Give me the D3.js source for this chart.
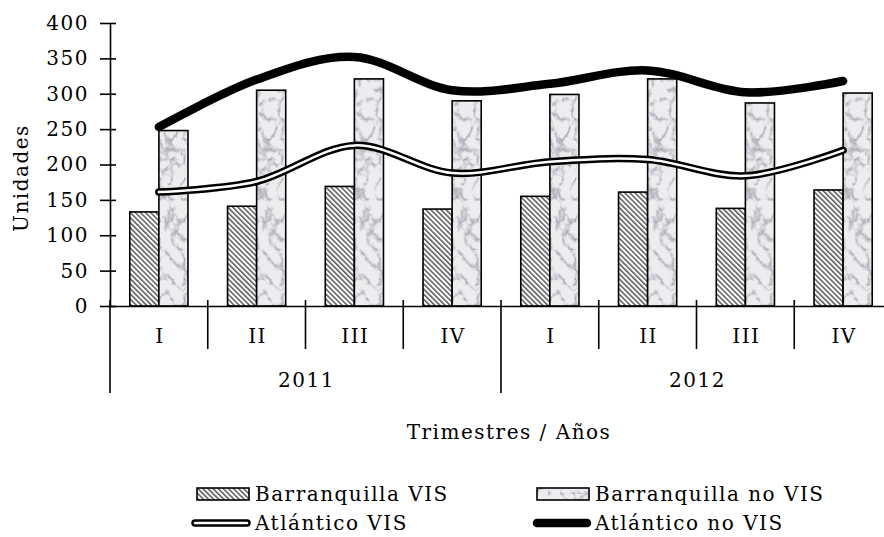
<!DOCTYPE html>
<html>
<head>
<meta charset="utf-8">
<script src="https://cdn.jsdelivr.net/npm/d3@7"></script>
<style>
  body { margin: 0; background: #fff; }
  svg { display: block; }
  text { font-family: "DejaVu Serif", serif; fill: #000; }
  .lbl { font-size: 20px; letter-spacing: 1.5px; }
</style>
</head>
<body>
<svg id="chart" width="884" height="537"></svg>
<script>
// values
const years = ['2011', '2012']
const quarters = ['I', 'II', 'III', 'IV']
const categories = ['2011-I', '2011-II', '2011-III', '2011-IV', '2012-I', '2012-II', '2012-III', '2012-IV']
const barranquillaVis = [133, 141, 169, 137, 155, 161, 138, 164]
const barranquillaNoVis = [248, 305, 321, 290, 299, 321, 287, 301]
const atlanticoVis = [161, 176, 227, 188, 204, 207, 184, 220]
const atlanticoNoVis = [253, 320, 352, 305, 314, 333, 302, 318]
const yTicks = [0, 50, 100, 150, 200, 250, 300, 350, 400]

const svg = d3.select('#chart')
const defs = svg.append('defs')

// hatch for Barranquilla VIS
const hatch = defs.append('pattern')
    .attr('id', 'hatch')
    .attr('patternUnits', 'userSpaceOnUse')
    .attr('width', 3.6).attr('height', 3.6)
    .attr('patternTransform', 'rotate(-45)')
hatch.append('rect').attr('width', 3.6).attr('height', 3.6).attr('fill', '#fff')
hatch.append('line').attr('x1', 0.8).attr('x2', 0.8).attr('y1', 0).attr('y2', 3.6)
    .attr('stroke', '#4a4a4a').attr('stroke-width', 1.4)

// marble texture for Barranquilla no VIS
const marbleFilter = defs.append('filter')
    .attr('id', 'marbleF')
    .attr('x', 0).attr('y', 0).attr('width', 1).attr('height', 1)
    .attr('color-interpolation-filters', 'sRGB')
marbleFilter.append('feTurbulence')
    .attr('type', 'turbulence')
    .attr('baseFrequency', '0.08 0.05')
    .attr('numOctaves', 4)
    .attr('seed', 11)
marbleFilter.append('feColorMatrix')
    .attr('type', 'matrix')
    .attr('values', '1.9 0 0 0 0.42  1.9 0 0 0 0.42  1.9 0 0 0 0.44  0 0 0 0 1')
const marbleTone = marbleFilter.append('feComponentTransfer')
marbleTone.append('feFuncR').attr('type', 'table').attr('tableValues', '0.4 0.93')
marbleTone.append('feFuncG').attr('type', 'table').attr('tableValues', '0.4 0.93')
marbleTone.append('feFuncB').attr('type', 'table').attr('tableValues', '0.43 0.94')
const marble = defs.append('pattern')
    .attr('id', 'marble')
    .attr('patternUnits', 'userSpaceOnUse')
    .attr('width', 240).attr('height', 320)
marble.append('rect').attr('width', 240).attr('height', 320).attr('filter', 'url(#marbleF)')

const x = d3.scaleBand().domain(categories).range([110, 892])
const series = d3.scaleBand().domain(['vis', 'novis']).range([0, x.bandwidth()]).paddingOuter(0.68)
const y = d3.scaleLinear().domain([0, 400]).range([306, 23])

// bars
const barData = categories.map((c, i) => ({ c: c, vis: barranquillaVis[i], novis: barranquillaNoVis[i] }))
const groups = svg.append('g').selectAll('g').data(barData).enter().append('g')
    .attr('transform', d => 'translate(' + x(d.c) + ',0)')
groups.append('rect')
    .attr('x', series('vis')).attr('width', series.bandwidth())
    .attr('y', d => y(d.vis)).attr('height', d => y(0) - y(d.vis))
    .attr('fill', 'url(#hatch)').attr('stroke', '#000').attr('stroke-width', 1.6)
groups.append('rect')
    .attr('x', series('novis')).attr('width', series.bandwidth())
    .attr('y', d => y(d.novis)).attr('height', d => y(0) - y(d.novis))
    .attr('fill', 'url(#marble)').attr('stroke', '#000').attr('stroke-width', 1.6)

// y axis
const yAxis = svg.append('g')
    .attr('transform', 'translate(110,0)')
    .call(d3.axisLeft(y).tickValues(yTicks).tickSize(10).tickPadding(11).tickSizeOuter(0))
yAxis.select('.domain').attr('stroke-width', 1.6)
yAxis.selectAll('.tick line').attr('x1', 6).attr('stroke-width', 1.6)
yAxis.selectAll('.tick text').attr('class', 'lbl').style('font-family', '"DejaVu Serif", serif')

svg.append('text')
    .attr('class', 'lbl')
    .attr('transform', 'translate(28,178) rotate(-90)')
    .attr('text-anchor', 'middle')
    .text('Unidades')

// x axis
const xAxis = svg.append('g')
    .attr('transform', 'translate(0,' + y(0) + ')')
    .call(d3.axisBottom(x).tickSize(0).tickPadding(23).tickSizeOuter(0).tickFormat(c => c.split('-')[1]))
xAxis.select('.domain').attr('stroke-width', 1.6)
xAxis.selectAll('.tick text').attr('class', 'lbl').attr('dx', 1).style('font-family', '"DejaVu Serif", serif')

const dividers = svg.append('g').attr('stroke', '#000').attr('stroke-width', 1.6)
categories.forEach((c, i) => {
    const isYear = i % quarters.length === 0
    dividers.append('line')
        .attr('x1', x(c)).attr('x2', x(c))
        .attr('y1', y(0) - 6).attr('y2', isYear ? 393 : 349)
})
dividers.append('line')
    .attr('x1', x.range()[1]).attr('x2', x.range()[1])
    .attr('y1', y(0) - 6).attr('y2', 393)

years.forEach(yr => {
    const first = x(yr + '-I')
    const last = x(yr + '-IV') + x.bandwidth()
    svg.append('text')
        .attr('class', 'lbl')
        .attr('x', (first + last) / 2 + 1).attr('y', 387)
        .attr('text-anchor', 'middle')
        .text(yr)
})

svg.append('text')
    .attr('class', 'lbl')
    .attr('x', 509).attr('y', 439)
    .attr('text-anchor', 'middle')
    .text('Trimestres / Años')

// lines
const line = d3.line()
    .x((d, i) => x(categories[i]) + x.bandwidth() / 2)
    .y(d => y(d))
    .curve(d3.curveCardinal.tension(0))

svg.append('path').datum(atlanticoVis)
    .attr('d', line).attr('fill', 'none')
    .attr('stroke', '#000').attr('stroke-width', 7.5)
    .attr('stroke-linecap', 'round').attr('stroke-linejoin', 'round')
svg.append('path').datum(atlanticoVis)
    .attr('d', line).attr('fill', 'none')
    .attr('stroke', '#fff').attr('stroke-width', 2.5)
    .attr('stroke-linecap', 'round').attr('stroke-linejoin', 'round')
svg.append('path').datum(atlanticoNoVis)
    .attr('d', line).attr('fill', 'none')
    .attr('stroke', '#000').attr('stroke-width', 8.5)
    .attr('stroke-linecap', 'round').attr('stroke-linejoin', 'round')

// legend
const legendItems = [
    { name: 'Barranquilla VIS', kind: 'hatch', lx: 197, ly: 494 },
    { name: 'Barranquilla no VIS', kind: 'marble', lx: 537, ly: 494 },
    { name: 'Atlántico VIS', kind: 'double', lx: 195, ly: 523 },
    { name: 'Atlántico no VIS', kind: 'thick', lx: 537, ly: 523 }
]
const legend = svg.append('g')
legendItems.forEach(item => {
    const g = legend.append('g').attr('transform', 'translate(' + item.lx + ',' + item.ly + ')')
    if (item.kind === 'hatch' || item.kind === 'marble') {
        g.append('rect')
            .attr('x', 0).attr('y', -6).attr('width', 52).attr('height', 12)
            .attr('fill', item.kind === 'hatch' ? 'url(#hatch)' : 'url(#marble)')
            .attr('stroke', '#000').attr('stroke-width', 1.6)
    } else if (item.kind === 'double') {
        g.append('line').attr('x1', 0).attr('x2', 52).attr('y1', 0).attr('y2', 0)
            .attr('stroke', '#000').attr('stroke-width', 7.5).attr('stroke-linecap', 'round')
        g.append('line').attr('x1', 0).attr('x2', 52).attr('y1', 0).attr('y2', 0)
            .attr('stroke', '#fff').attr('stroke-width', 2.5).attr('stroke-linecap', 'round')
    } else {
        g.append('line').attr('x1', 0).attr('x2', 50).attr('y1', 0).attr('y2', 0)
            .attr('stroke', '#000').attr('stroke-width', 8.5).attr('stroke-linecap', 'round')
    }
    g.append('text')
        .attr('class', 'lbl')
        .attr('x', item.kind === 'double' ? 60 : 58).attr('y', 7)
        .text(item.name)
})
</script>
</body>
</html>
